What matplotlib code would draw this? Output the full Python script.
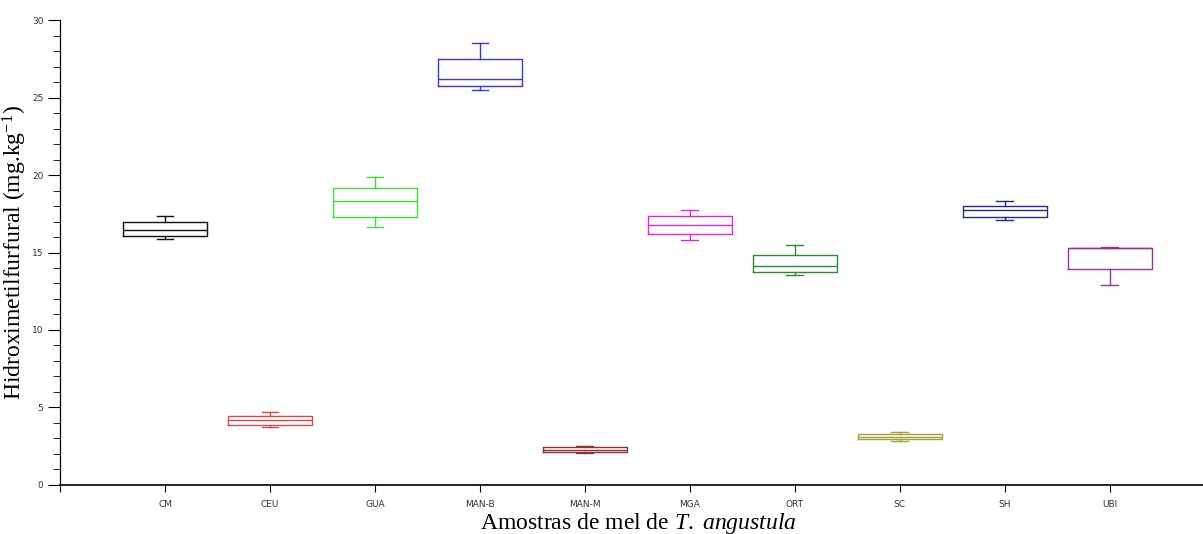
import matplotlib.pyplot as plt
from matplotlib.ticker import MultipleLocator

plt.rcParams['mathtext.fontset'] = 'custom'
plt.rcParams['mathtext.rm'] = 'Liberation Serif'
plt.rcParams['mathtext.it'] = 'Liberation Serif:italic'

# HMF content per honey sample (mg/kg): whisker low, Q1, median, Q3, whisker high
amostras = ['CM', 'CEU', 'GUA', 'MAN-B', 'MAN-M', 'MGA', 'ORT', 'SC', 'SH', 'UBI']
whis_lo = [15.87, 3.76, 16.62, 25.50, 2.08, 15.81, 13.57, 2.86, 17.10, 12.92]
q1      = [16.04, 3.87, 17.31, 25.76, 2.15, 16.17, 13.74, 2.97, 17.31, 13.94]
mediana = [16.45, 4.19, 18.30, 26.19, 2.28, 16.79, 14.13, 3.10, 17.74, 15.27]
q3      = [16.97, 4.45, 19.16, 27.46, 2.45, 17.34, 14.84, 3.29, 18.00, 15.30]
whis_hi = [17.37, 4.69, 19.87, 28.50, 2.50, 17.72, 15.46, 3.40, 18.32, 15.35]
cores = ['#111111', '#E04848', '#3ADD3A', '#3A3ACC', '#8E3434',
         '#DD2ADD', '#2E8B2E', '#A3A33C', '#2A2A8E', '#993399']

fig = plt.figure(figsize=(12.03, 5.34), dpi=100)
ax = fig.add_axes([0.05, 0.0918, 0.95, 0.8707])

for i in range(len(amostras)):
    stats = [{'whislo': whis_lo[i], 'q1': q1[i], 'med': mediana[i],
              'q3': q3[i], 'whishi': whis_hi[i], 'fliers': []}]
    c = cores[i]
    ax.bxp(stats, positions=[i + 1], widths=0.8, showfliers=False,
           boxprops=dict(color=c, lw=1.0),
           medianprops=dict(color=c, lw=1.0),
           whiskerprops=dict(color=c, lw=1.0),
           capprops=dict(color=c, lw=1.0),
           capwidths=0.16, manage_ticks=False)

ax.set_xlim(0, 10.89)
ax.set_ylim(0, 30)
ax.set_xticks(range(0, 11))
ax.set_xticklabels([''] + amostras, fontsize=6.5, color='#333333')
ax.yaxis.set_major_locator(MultipleLocator(5))
ax.yaxis.set_minor_locator(MultipleLocator(1))
ax.tick_params(axis='y', which='major', length=9, labelsize=6.5, labelcolor='#333333', pad=3)
ax.tick_params(axis='y', which='minor', length=5)
ax.tick_params(axis='x', length=5, pad=6)

for s in ['top', 'right']:
    ax.spines[s].set_visible(False)
ax.spines['left'].set_linewidth(0.9)
ax.spines['bottom'].set_linewidth(1.2)

ax.set_ylabel('Hidroximetilfurfural (mg.kg$^{\\mathregular{-1}}$)',
              family='Liberation Serif', fontsize=17, labelpad=2)
ax.set_xlabel('Amostras de mel de $\\it{T.\\ angustula}$',
              family='Liberation Serif', fontsize=17, labelpad=0)
ax.xaxis.set_label_coords(0.506, -0.055)

fig.savefig('out.png', dpi=100)
